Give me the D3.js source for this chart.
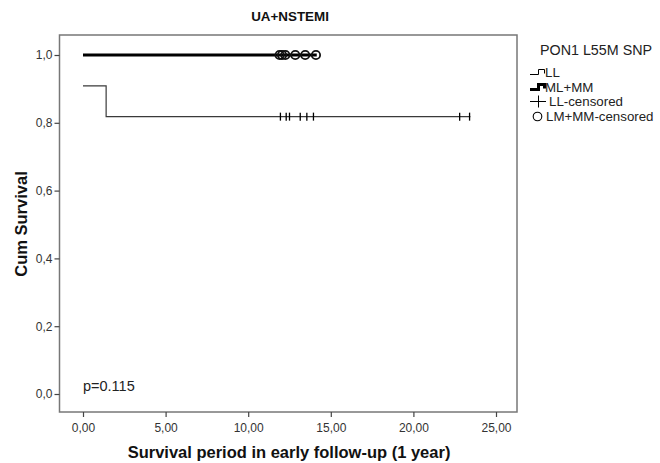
<!DOCTYPE html>
<html><head><meta charset="utf-8">
<script src="https://cdn.jsdelivr.net/npm/d3@7"></script>
<style>body{margin:0;background:#fff;} svg{font-family:"Liberation Sans",Arial,sans-serif;}</style>
</head><body>
<svg id="c" width="660" height="463"></svg>
<script>
// Data
const llSteps = [[0, 10/11], [1.4, 9/11], [23.45, 9/11]];
const mlSteps = [[0, 1.0], [14.15, 1.0]];
const llCensored = [11.95, 12.3, 12.5, 13.15, 13.55, 13.95, 22.8, 23.4];
const llCensoredY = 9/11;
const mlCensored = [11.9, 12.05, 12.25, 12.85, 13.45, 14.1];
const mlCensoredY = 1.0;
const xTicks = [0, 5, 10, 15, 20, 25];
const yTicks = [0, 0.2, 0.4, 0.6, 0.8, 1.0];
const legendItems = ["LL", "ML+MM", "LL-censored", "LM+MM-censored"];

const svg = d3.select("#c");
const L = 59.5, R = 517, T = 35, B = 412;
const x = d3.scaleLinear().domain([0, 25]).range([83, 496]);
const y = d3.scaleLinear().domain([0, 1]).range([394, 55]);
const fmtX = d => d3.format(".2f")(d).replace(".", ",");
const fmtY = d => d3.format(".1f")(d).replace(".", ",");
const FF = "Liberation Sans, Arial, sans-serif";

// frame
svg.append("rect").attr("x", L).attr("y", T).attr("width", R - L).attr("height", B - T)
  .attr("fill", "none").attr("stroke", "#777").attr("stroke-width", 1.5);

// x axis
const xa = svg.append("g").attr("transform", `translate(0,${B})`)
  .call(d3.axisBottom(x).tickValues(xTicks).tickFormat(fmtX).tickSize(5).tickPadding(6));
xa.select(".domain").remove();
xa.selectAll("line").attr("stroke", "#444").attr("stroke-width", 1.2);
xa.selectAll("text").attr("font-size", 12).attr("fill", "#333").attr("font-family", FF);

// y axis
const ya = svg.append("g").attr("transform", `translate(${L},0)`)
  .call(d3.axisLeft(y).tickValues(yTicks).tickFormat(fmtY).tickSize(5).tickPadding(2));
ya.select(".domain").remove();
ya.selectAll("line").attr("stroke", "#444").attr("stroke-width", 1.2);
ya.selectAll("text").attr("font-size", 12).attr("fill", "#333").attr("font-family", FF);

// curves
const line = d3.line().x(d => x(d[0])).y(d => y(d[1])).curve(d3.curveStepAfter);
svg.append("path").datum(llSteps).attr("d", line).attr("fill", "none")
  .attr("stroke", "#3a3a3a").attr("stroke-width", 1.2);
svg.append("path").datum(mlSteps).attr("d", line).attr("fill", "none")
  .attr("stroke", "#000").attr("stroke-width", 2.8);

// censor marks
svg.selectAll(".llc").data(llCensored).enter().append("line")
  .attr("x1", d => x(d)).attr("x2", d => x(d))
  .attr("y1", y(llCensoredY) - 4).attr("y2", y(llCensoredY) + 4)
  .attr("stroke", "#000").attr("stroke-width", 1.3);
svg.selectAll(".mlc").data(mlCensored).enter().append("circle")
  .attr("cx", d => x(d)).attr("cy", y(mlCensoredY)).attr("r", 4.2)
  .attr("fill", "none").attr("stroke", "#111").attr("stroke-width", 1.8);

// texts
svg.append("text").attr("x", 290).attr("y", 21).attr("text-anchor", "middle")
  .attr("font-size", 13.4).attr("font-weight", "bold").attr("fill", "#111").text("UA+NSTEMI");
svg.append("text").attr("transform", "translate(27,224) rotate(-90)").attr("text-anchor", "middle")
  .attr("font-size", 16.5).attr("font-weight", "bold").attr("fill", "#111").text("Cum Survival");
svg.append("text").attr("x", 289).attr("y", 458).attr("text-anchor", "middle")
  .attr("font-size", 16.5).attr("font-weight", "bold").attr("fill", "#111").text("Survival period in early follow-up (1 year)");
svg.append("text").attr("x", 83).attr("y", 391).attr("font-size", 14.5).attr("fill", "#222").text("p=0.115");

// legend
svg.append("text").attr("x", 540).attr("y", 55).attr("font-size", 14.3).attr("fill", "#222").text("PON1 L55M SNP");
const lg = svg.append("g");
const rowY = [72.5, 87.5, 101.5, 116.5];
legendItems.forEach((t, i) => {
  const cy = rowY[i];
  const sx = 530;
  if (i === 0 || i === 1) {
    const w = i === 0 ? 1 : 3;
    lg.append("path").attr("d", `M${sx},${cy + 2} H${sx + 8.5} V${cy - 3} H${sx + 14.5} V${cy + 1}`)
      .attr("fill", "none").attr("stroke", "#000").attr("stroke-width", w);
  } else if (i === 2) {
    lg.append("line").attr("x1", sx).attr("x2", sx + 16).attr("y1", cy).attr("y2", cy).attr("stroke", "#000").attr("stroke-width", 1);
    lg.append("line").attr("x1", sx + 8.5).attr("x2", sx + 8.5).attr("y1", cy - 6).attr("y2", cy + 6).attr("stroke", "#000").attr("stroke-width", 1);
  } else {
    lg.append("circle").attr("cx", sx + 7.5).attr("cy", cy).attr("r", 4.3).attr("fill", "none").attr("stroke", "#000").attr("stroke-width", 1.1);
  }
  lg.append("text").attr("x", i === 2 ? 549 : (i === 3 ? 546 : 545)).attr("y", cy + 4.5).attr("font-size", 13.3).attr("fill", "#222").text(t);
});
</script>
</body></html>
